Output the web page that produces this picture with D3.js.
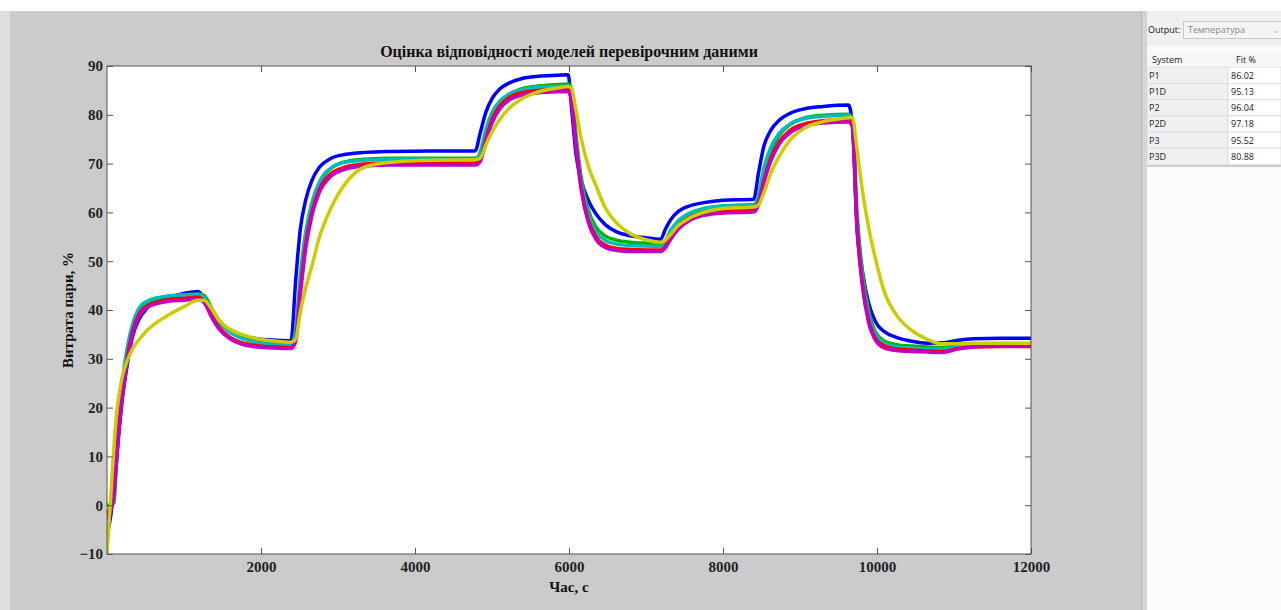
<!DOCTYPE html>
<html><head><meta charset="utf-8">
<script src="https://cdn.jsdelivr.net/npm/d3@7"></script>
<style>
html,body{margin:0;padding:0;background:#fff;overflow:hidden}
svg{display:block}
</style></head>
<body>
<script>
// ---------- data ----------
const title = "Оцінка відповідності моделей перевірочним даними";
const xLabel = "Час, с";
const yLabel = "Витрата пари, %";
const xTicks = [2000, 4000, 6000, 8000, 10000, 12000];
const yTicks = [-10, 0, 10, 20, 30, 40, 50, 60, 70, 80, 90];
const systems = ["P1", "P1D", "P2", "P2D", "P3", "P3D"];
const fits = ["86.02", "95.13", "96.04", "97.18", "95.52", "80.88"];
const outputName = "Температура";

const T = [0, 50, 90, 120, 160, 200, 260, 330, 420, 520, 650, 800, 1000, 1180, 1260, 1360, 1460, 1580, 1750, 1950, 2200,
  2390, 2450, 2510, 2580, 2660, 2760, 2900, 3100, 3350, 3700, 4200, 4780,
  4850, 4920, 5000, 5100, 5220, 5380, 5600, 5850, 5990, 6030, 6090, 6160, 6250, 6350, 6470, 6620, 6800, 7000, 7190,
  7250, 7320, 7420, 7560, 7750, 8000, 8400,
  8460, 8530, 8620, 8730, 8870, 9050, 9300, 9630, 9680, 9740, 9810, 9890, 9980, 10100, 10250, 10450, 10650, 10850, 11050, 11250, 11600, 12000];

const blueP1 = [-6, -2, 4, 9, 16, 22, 28.5, 34.5, 38.2, 40.4, 41.8, 42.6, 43.4, 43.8, 42.5, 39.8, 37.6, 36.0, 34.8, 34.1, 33.8,
  33.7, 46, 56.5, 62.5, 66.5, 69.3, 71.0, 71.9, 72.3, 72.5, 72.6, 72.6,
  76.5, 80.5, 83.3, 85.3, 86.5, 87.4, 87.9, 88.1, 88.2, 82, 72, 66.5, 62.5, 59.7, 57.5, 56, 55.2, 54.8, 54.5,
  56.5, 58.5, 60.2, 61.3, 62.0, 62.5, 62.7,
  68, 73.5, 76.8, 78.9, 80.3, 81.2, 81.7, 82.0, 78, 57, 48, 41.5, 37.6, 35.5, 34.4, 33.6, 33.2, 33.3, 33.8, 34.1, 34.2, 34.2];

const greenP1D = [0, 0, 0.5, 8, 17, 23, 30, 35.5, 39.5, 41.3, 42.3, 42.8, 43.1, 43.3, 43.0, 40.3, 37.8, 35.8, 34.4, 33.6, 33.2,
  33.1, 34.5, 45, 54.5, 61, 65.8, 68.9, 70.4, 70.9, 71.1, 71.1, 71.1,
  71.5, 76, 79.8, 82.5, 84.2, 85.3, 85.9, 86.2, 86.3, 85.5, 76, 67, 60.5, 57, 55.2, 54.3, 53.9, 53.7, 53.6,
  54, 56, 58, 59.6, 60.7, 61.3, 61.6,
  63, 68, 72.5, 75.8, 78, 79.3, 79.9, 80.1, 79, 60, 48, 40, 35.5, 33.6, 32.9, 32.6, 32.4, 32.3, 32.6, 32.8, 32.9, 32.9];

const cyanP2D = [-3, 0, 4, 11, 19.5, 25.5, 32, 37, 40.5, 41.8, 42.5, 42.9, 43.1, 43.2, 42.6, 39.8, 37.4, 35.6, 34.2, 33.3, 32.9,
  32.8, 36, 47, 56, 62, 66.3, 69.0, 70.3, 70.7, 70.9, 70.9, 70.9,
  72.5, 77, 80.5, 82.8, 84.2, 85.1, 85.6, 85.8, 85.9, 84, 75, 66, 59.5, 56, 54.3, 53.5, 53.2, 53.1, 53.0,
  54, 56.3, 58.3, 59.8, 60.8, 61.3, 61.5,
  63.5, 69, 73.3, 76.2, 78.1, 79.2, 79.7, 79.9, 78.5, 58.5, 46.5, 39, 35, 33.2, 32.5, 32.2, 32.0, 32.0, 32.4, 32.6, 32.7, 32.7];

const redP2 = [-2, 0, 3, 9, 17, 23, 30, 35.5, 39.3, 40.8, 41.6, 42.1, 42.4, 42.6, 41.8, 38.8, 36.4, 34.6, 33.3, 32.7, 32.4,
  32.3, 34, 44, 53.5, 60, 64.8, 67.8, 69.3, 69.9, 70.1, 70.1, 70.1,
  71, 75, 79, 81.8, 83.5, 84.5, 85.0, 85.2, 85.3, 83.5, 74, 65, 58.5, 55, 53.3, 52.6, 52.4, 52.3, 52.3,
  53, 55, 57.2, 58.9, 59.9, 60.4, 60.6,
  62, 66.5, 71, 74.5, 76.8, 78.1, 78.8, 79.1, 78, 57.5, 45.5, 38, 34.2, 32.6, 32.0, 31.8, 31.6, 31.5, 32.1, 32.4, 32.5, 32.5];

const magentaP3 = [-3, -1, 2, 8, 16, 22, 29, 35, 38.8, 40.5, 41.3, 41.8, 42.0, 42.2, 41.5, 38.5, 36.0, 34.3, 33.0, 32.4, 32.2,
  32.1, 33.5, 43, 52.5, 59.3, 64.2, 67.3, 68.9, 69.5, 69.7, 69.7, 69.7,
  70.5, 74.5, 78.3, 81.2, 83, 84, 84.5, 84.7, 84.8, 83, 73.5, 64.5, 58, 54.5, 52.8, 52.2, 52.0, 52.0, 52.0,
  52.7, 54.5, 56.6, 58.3, 59.4, 59.9, 60.1,
  61.5, 66, 70.5, 74, 76.3, 77.6, 78.3, 78.5, 77.5, 57, 45, 37.5, 33.8, 32.2, 31.7, 31.5, 31.4, 31.3, 32.0, 32.4, 32.6, 32.6];

const yellowP3D = [-10, 2, 12, 18, 23, 26.5, 29.5, 32, 34, 35.8, 37.5, 39, 40.7, 42.0, 42.0, 40.2, 37.8, 36.2, 35, 34.1, 33.6,
  33.4, 34, 39.5, 44.5, 49, 55, 60.6, 66, 69.3, 70.3, 70.7, 70.8,
  71.2, 73.8, 76.5, 79, 81.3, 83.2, 84.7, 85.5, 85.8, 85.5, 81, 75, 69.5, 65.5, 61, 57.8, 55.6, 54.4, 53.9,
  54.3, 55.5, 57.3, 58.8, 60, 60.8, 61.1,
  61.5, 64, 68, 71.5, 74.8, 77.2, 78.6, 79.4, 79.5, 73, 64.5, 57, 50.5, 43.5, 39, 35.8, 34.0, 33.1, 33.1, 33.2, 33.2, 33.2];

const series = [
  {name: "P1", color: "#0000ff", values: blueP1},
  {name: "P1D", color: "#00b400", values: greenP1D},
  {name: "P2D", color: "#00bcbc", values: cyanP2D},
  {name: "P2", color: "#ff0000", values: redP2},
  {name: "P3", color: "#c400c4", values: magentaP3},
  {name: "P3D", color: "#cccc00", values: yellowP3D}
];

// ---------- layout ----------
const W = 1281, H = 610;
const M = {left: 107, right: 1031, top: 66, bottom: 554};
const svg = d3.select("body").append("svg").attr("width", W).attr("height", H);
const serif = "'Liberation Serif','Times New Roman',serif";
const sans = "'Open Sans','Noto Sans',sans-serif";

// figure backgrounds
svg.append("rect").attr("x", 0).attr("y", 0).attr("width", W).attr("height", H).attr("fill", "#ffffff");
svg.append("rect").attr("x", 0).attr("y", 11).attr("width", 10).attr("height", H - 11).attr("fill", "#dedede");
svg.append("rect").attr("x", 10).attr("y", 11).attr("width", 1131).attr("height", H - 11).attr("fill", "#cbcbcb");

const x = d3.scaleLinear().domain([0, 12000]).range([M.left, M.right]);
const y = d3.scaleLinear().domain([-10, 90]).range([M.bottom, M.top]);

svg.append("rect").attr("x", M.left).attr("y", M.top).attr("width", M.right - M.left).attr("height", M.bottom - M.top).attr("fill", "#fff");

svg.append("clipPath").attr("id", "clip").append("rect")
  .attr("x", M.left).attr("y", M.top - 2).attr("width", M.right - M.left).attr("height", M.bottom - M.top + 4);

const line = d3.line().x((d, i) => x(T[i])).y(d => y(d)).curve(d3.curveMonotoneX);
const g = svg.append("g").attr("clip-path", "url(#clip)");
series.forEach(s => {
  g.append("path").datum(s.values).attr("d", line).attr("fill", "none")
    .attr("stroke", s.color).attr("stroke-width", 3.5).attr("stroke-linejoin", "round");
});

// axes (ticks inward, box)
const axisColor = "#555";
const tickLen = 6;
const gxB = svg.append("g").attr("transform", `translate(0,${M.bottom})`)
  .call(d3.axisBottom(x).tickValues(xTicks).tickSize(-tickLen).tickPadding(7).tickFormat(d3.format("d")));
const gxT = svg.append("g").attr("transform", `translate(0,${M.top})`)
  .call(d3.axisTop(x).tickValues(xTicks).tickSize(-tickLen).tickFormat(""));
const gyL = svg.append("g").attr("transform", `translate(${M.left},0)`)
  .call(d3.axisLeft(y).tickValues(yTicks).tickSize(-tickLen).tickPadding(4).tickFormat(d3.format("d")));
const gyR = svg.append("g").attr("transform", `translate(${M.right},0)`)
  .call(d3.axisRight(y).tickValues(yTicks).tickSize(-tickLen).tickFormat(""));
[gxB, gxT, gyL, gyR].forEach(a => {
  a.select(".domain").remove();
  a.selectAll(".tick line").attr("stroke", axisColor).attr("stroke-width", 1);
  a.selectAll(".tick text").attr("fill", "#222").style("font-family", serif).style("font-size", "15px").style("font-weight", "bold");
});
svg.append("rect").attr("x", M.left).attr("y", M.top).attr("width", M.right - M.left).attr("height", M.bottom - M.top)
  .attr("fill", "none").attr("stroke", axisColor).attr("stroke-width", 1);

// titles
svg.append("text").attr("x", (M.left + M.right) / 2).attr("y", 57).attr("text-anchor", "middle")
  .style("font-family", serif).style("font-size", "16px").style("font-weight", "bold").attr("fill", "#111").text(title);
svg.append("text").attr("x", (M.left + M.right) / 2).attr("y", 592).attr("text-anchor", "middle")
  .style("font-family", serif).style("font-size", "15px").style("font-weight", "bold").attr("fill", "#111").text(xLabel);
svg.append("text").attr("transform", `translate(73,${(M.top + M.bottom) / 2}) rotate(-90)`).attr("text-anchor", "middle")
  .style("font-family", serif).style("font-size", "15px").style("font-weight", "bold").attr("fill", "#111").text(yLabel);

// ---------- right panel ----------
const px = 1141;
svg.append("rect").attr("x", px).attr("y", 11).attr("width", 6).attr("height", H - 11).attr("fill", "#d4d4d4");
svg.append("line").attr("x1", px + 0.5).attr("x2", px + 0.5).attr("y1", 11).attr("y2", H).attr("stroke", "#b8b8b8");
svg.append("rect").attr("x", px + 6).attr("y", 11).attr("width", W - px - 6).attr("height", H - 11).attr("fill", "#fbfbfb");
svg.append("rect").attr("x", px + 6).attr("y", 11).attr("width", W - px - 6).attr("height", 35).attr("fill", "#f0f0f0");
svg.append("text").attr("x", 1148).attr("y", 33).style("font-family", sans).style("font-size", "9px").attr("fill", "#111").text("Output:");
svg.append("rect").attr("x", 1183.5).attr("y", 21.5).attr("width", 100).attr("height", 17).attr("fill", "#f4f4f4").attr("stroke", "#c8c8c8");
svg.append("text").attr("x", 1188).attr("y", 33).style("font-family", sans).style("font-size", "9px").attr("fill", "#8a8a8a").text(outputName);
svg.append("text").attr("x", 1272).attr("y", 33).style("font-family", sans).style("font-size", "8px").attr("fill", "#aaa").text("⌄");

const rowH = 16.2, tableTop = 51, colX = 1228;
const tbl = svg.append("g");
tbl.append("rect").attr("x", 1147).attr("y", tableTop).attr("width", W - 1147).attr("height", rowH).attr("fill", "#f7f7f7");
tbl.append("text").attr("x", 1152).attr("y", tableTop + 11.5).style("font-family", sans).style("font-size", "9px").attr("fill", "#222").text("System");
tbl.append("text").attr("x", 1236).attr("y", tableTop + 11.5).style("font-family", sans).style("font-size", "9px").attr("fill", "#222").text("Fit %");
systems.forEach((s, i) => {
  const ry = tableTop + rowH * (i + 1);
  tbl.append("rect").attr("x", 1147).attr("y", ry).attr("width", colX - 1147).attr("height", rowH).attr("fill", "#f0f0f0").attr("stroke", "#dcdcdc").attr("stroke-width", 0.8);
  tbl.append("rect").attr("x", colX).attr("y", ry).attr("width", W - colX).attr("height", rowH).attr("fill", "#fff").attr("stroke", "#dcdcdc").attr("stroke-width", 0.8);
  tbl.append("text").attr("x", 1149).attr("y", ry + 11.5).style("font-family", sans).style("font-size", "9px").attr("fill", "#222").text(s);
  tbl.append("text").attr("x", 1231).attr("y", ry + 11.5).style("font-family", sans).style("font-size", "9px").attr("fill", "#222").text(fits[i]);
});
tbl.append("line").attr("x1", 1147).attr("x2", W).attr("y1", tableTop + rowH * 7 + 1.5).attr("y2", tableTop + rowH * 7 + 1.5).attr("stroke", "#cfcfcf").attr("stroke-width", 2);
</script>
</body></html>
